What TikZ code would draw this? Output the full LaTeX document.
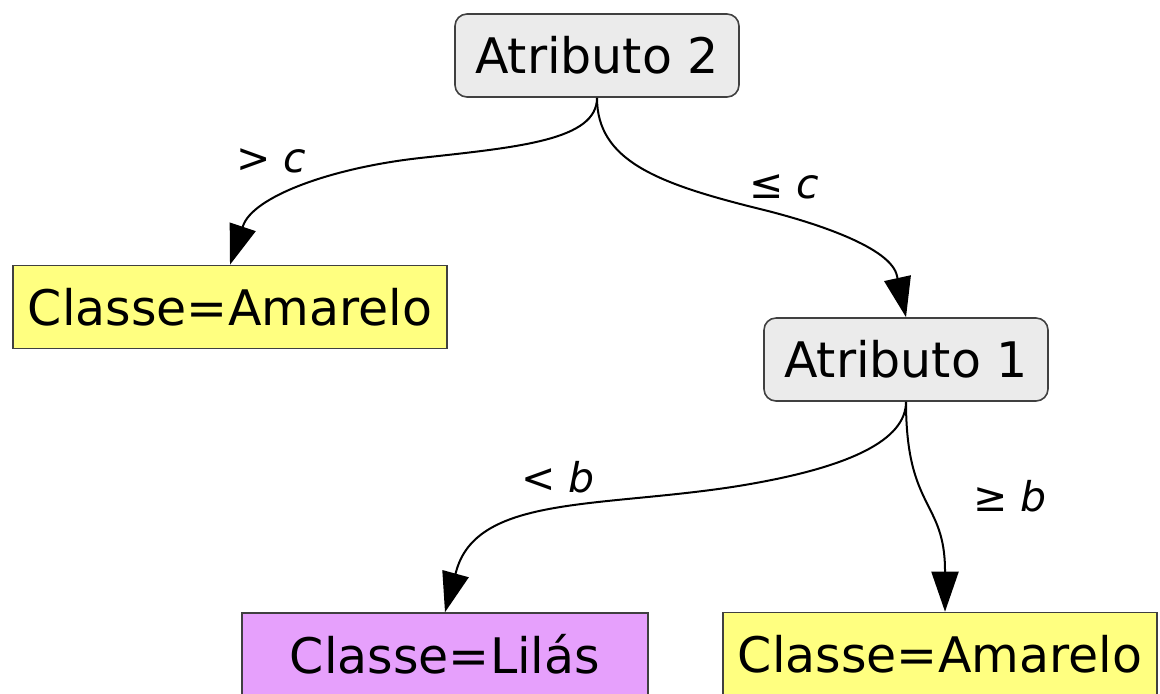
\documentclass[tikz,border=0pt]{standalone}
\usepackage{fontspec}
\setmainfont{DejaVu Sans}
\usetikzlibrary{arrows.meta}
\definecolor{attrgray}{RGB}{235,235,235}
\definecolor{classyellow}{RGB}{255,255,128}
\definecolor{classlilac}{RGB}{230,160,252}
\begin{document}
\begin{tikzpicture}[x=0.5pt,y=-0.5pt,
  attr/.style={draw=black!75, line width=0.8pt, fill=attrgray, rounded corners=6pt,
    minimum width=142pt, minimum height=41.5pt, inner sep=0pt, font=\fontsize{24.5}{29}\selectfont},
  leaf/.style={draw=black!75, line width=0.8pt, minimum height=41.5pt, inner sep=0pt,
    font=\fontsize{24.5}{29}\selectfont},
  branch/.style={line width=1pt, -{Triangle[length=20pt,width=13.5pt]}},
  cond/.style={font=\fontsize{20.5}{24}\selectfont\itshape}]
\useasboundingbox (0,0) rectangle (1160,693);

% Nodes
\node[attr] (a2) at (597,55.5) {Atributo 2};
\node[leaf, fill=classyellow, minimum width=217pt] (c1) at (230,307) {Classe=Amarelo};
\node[attr] (a1) at (906,359.5) {Atributo 1};
\node[leaf, fill=classlilac, minimum width=203pt] (c2) at (445,654.5) {Classe=Lilás};
\node[leaf, fill=classyellow, minimum width=217pt] (c3) at (940,654) {Classe=Amarelo};

% Branches
\draw[branch] (a2.south) .. controls (597,140) and (520,147) .. (420,158)
  .. controls (330,168) and (252.6,197) .. (243,226) -- (c1.north);
\draw[branch] (a2.south) .. controls (597,160) and (656,183) .. (756,208)
  .. controls (818,223) and (891.4,248) .. (897,276) -- (a1.north);
\draw[branch] (a1.south) .. controls (906,440) and (850,468.6) .. (732,487)
  .. controls (595,507.7) and (476,496) .. (456,572) -- (c2.north);
\draw[branch] (a1.south) .. controls (906,510) and (945,500) .. (945,571)
  -- ([xshift=2.5pt]c3.north);

% Labels
\node[cond] (lgt) at (271,161) {> c};
\node[cond] (lle) at (784,187) {≤ c};
\node[cond] (llt) at (558,477) {< b};
\node[cond] (lge) at (1010,496) {≥ b};
\end{tikzpicture}
\end{document}
